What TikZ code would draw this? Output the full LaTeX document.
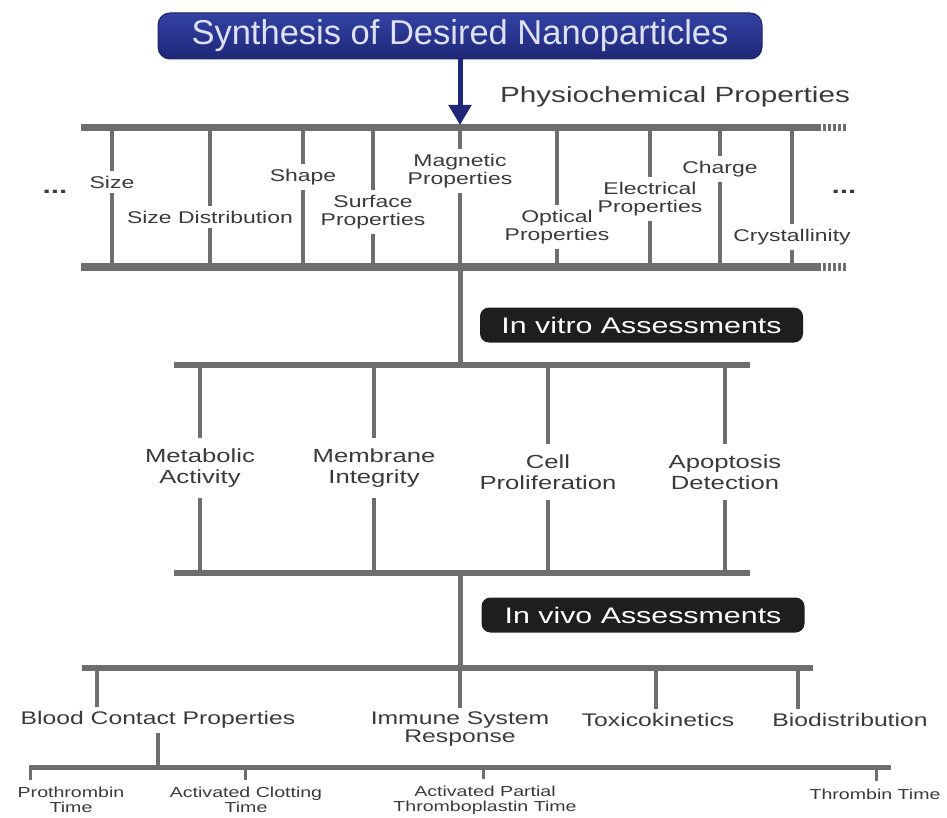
\documentclass[tikz,border=0pt]{standalone}
\usepackage{fontspec}
\setmainfont{Liberation Sans}
\newfontfamily\widesf{Liberation Sans}[FakeStretch=1.35]
\usetikzlibrary{arrows.meta}
\definecolor{navytop}{HTML}{3241A3}
\definecolor{navybot}{HTML}{1F2878}
\definecolor{navyedge}{HTML}{1A2266}
\definecolor{barcol}{HTML}{6E6E6E}
\definecolor{txtcol}{HTML}{3A3A3A}
\definecolor{tagcol}{HTML}{1E1E1E}
\tikzset{
  bar/.style={line width=7pt, draw=barcol},
  barend/.style={line width=7pt, draw=barcol, dash pattern=on 3pt off 2pt},
  stem/.style={line width=4pt, draw=barcol},
  plbl/.style={align=center, inner xsep=1pt, inner ysep=5pt, text=txtcol,
    font=\widesf\fontsize{17}{18.5}\selectfont},
  vlbl/.style={plbl, inner ysep=10pt, font=\widesf\fontsize{19}{21}\selectfont},
  ilbl/.style={plbl, inner ysep=4pt, font=\widesf\fontsize{18.3}{18}\selectfont},
  clbl/.style={plbl, inner ysep=7pt, font=\widesf\fontsize{14.5}{15}\selectfont},
  dots/.style={plbl, font=\widesf\bfseries\fontsize{22}{24}\selectfont},
  tag/.style={fill=tagcol, rounded corners=9pt, text=white, minimum width=323pt,
    minimum height=35pt, font=\widesf\fontsize{22.5}{24}\selectfont},
}
\begin{document}
\begin{tikzpicture}[x=1pt, y=-1pt]
\useasboundingbox (0,0) rectangle (947,818);
% top box and arrow
\node[top color=navytop, bottom color=navybot, draw=navyedge, line width=1pt,
  rounded corners=12pt, minimum width=604pt, minimum height=46pt,
  text={rgb,255:red,222;green,225;blue,245}, font=\fontsize{34.5}{36}\selectfont]
  (title) at (460,36) {Synthesis of Desired Nanoparticles};
\node[plbl, font=\widesf\fontsize{22}{24}\selectfont] (physio) at (675,97) {Physiochemical Properties};
% bar coordinates
\coordinate (ptopL) at (81,128);  \coordinate (ptopR) at (818,128); \coordinate (ptopE) at (846,128);
\coordinate (pbotL) at (81,267);  \coordinate (pbotR) at (818,267); \coordinate (pbotE) at (846,267);
\coordinate (ptop) at (460,128);  \coordinate (pbot) at (460,267);
\coordinate (vtopL) at (174,365); \coordinate (vtopR) at (750,365); \coordinate (vtop) at (460,365);
\coordinate (vbotL) at (174,573); \coordinate (vbotR) at (750,573); \coordinate (vbot) at (460,573);
\coordinate (ivL) at (82,668);    \coordinate (ivR) at (813,668);   \coordinate (ivbar) at (460,668);
\coordinate (cbL) at (29,767);    \coordinate (cbR) at (891,767);   \coordinate (cbar) at (460,767);
\draw[bar] (ptopL) -- (ptopR);
\draw[barend] (ptopR) -- (ptopE);
\draw[bar] (pbotL) -- (pbotR);
\draw[barend] (pbotR) -- (pbotE);
\draw[-{Triangle[width=22pt,length=20pt]}, line width=5pt, draw=navybot, shorten >=3pt] (title.south) -- (ptop);
% physiochemical properties
\node[plbl] (size) at (112,182) {Size};
\node[plbl] (sizedist) at (210,217) {Size Distribution};
\node[plbl] (shape) at (303,177) {Shape};
\node[plbl] (surface) at (373,212) {Surface\\Properties};
\node[plbl] (magnet) at (460,171) {Magnetic\\Properties};
\node[plbl] (optical) at (557,227) {Optical\\Properties};
\node[plbl] (electr) at (650,199) {Electrical\\Properties};
\node[plbl] (charge) at (720,169) {Charge};
\node[plbl] (crystal) at (792,237) {Crystallinity};
\node[dots] (ldots) at (55,192) {...};
\node[dots] (rdots) at (844,192) {...};
\foreach \n in {size,sizedist,shape,surface,magnet,optical,electr,charge,crystal} {
  \draw[stem] (\n.north |- ptop) -- (\n.north);
  \draw[stem] (\n.south) -- (\n.south |- pbot);
}
% in vitro
\draw[stem, line width=5pt] (pbot) -- (vtop);
\node[tag] (vitro) at (641.5,325) {In vitro Assessments};
\draw[bar, line width=6pt] (vtopL) -- (vtopR);
\draw[bar, line width=6pt] (vbotL) -- (vbotR);
\node[vlbl] (metab) at (200,468) {Metabolic\\Activity};
\node[vlbl] (membr) at (374,468) {Membrane\\Integrity};
\node[vlbl] (cellp) at (548,472) {Cell\\Proliferation};
\node[vlbl] (apopt) at (725,472) {Apoptosis\\Detection};
\foreach \n in {metab,membr,cellp,apopt} {
  \draw[stem, line width=4.5pt] (\n.north |- vtop) -- (\n.north);
  \draw[stem, line width=4.5pt] (\n.south) -- (\n.south |- vbot);
}
% in vivo
\draw[stem, line width=5pt] (vbot) -- (ivbar);
\node[tag] (vivo) at (643,615) {In vivo Assessments};
\draw[bar, line width=6pt] (ivL) -- (ivR);
\node[ilbl] (blood) at (158,720) {Blood Contact Properties};
\node[ilbl] (immune) at (460,729) {Immune System\\Response};
\node[ilbl] (toxico) at (658,720) {Toxicokinetics};
\node[ilbl] (biodist) at (850,720) {Biodistribution};
\coordinate (vb1) at (97,668);  \coordinate (vb2) at (460,668);
\coordinate (vb3) at (656,668); \coordinate (vb4) at (798,668);
\foreach \c/\n in {vb1/blood,vb2/immune,vb3/toxico,vb4/biodist}
  \draw[stem] (\c) -- (\c |- \n.north);
% blood contact tests
\draw[stem] (blood.south) -- (blood.south |- cbar);
\draw[bar, line width=5pt] (cbL) -- (cbR);
\node[clbl] (prothr) at (71,800) {Prothrombin\\Time};
\node[clbl] (actclot) at (246,800) {Activated Clotting\\Time};
\node[clbl] (aptt) at (485,800) {Activated Partial\\Thromboplastin Time};
\node[clbl] (thromb) at (875,794) {Thrombin Time};
\coordinate (cb1) at (30,767);  \coordinate (cb2) at (245,767);
\coordinate (cb3) at (483,767); \coordinate (cb4) at (876,767);
\foreach \c/\n in {cb1/prothr,cb2/actclot,cb3/aptt,cb4/thromb}
  \draw[stem, line width=3pt] (\c) -- (\c |- \n.north);
\end{tikzpicture}
\end{document}
